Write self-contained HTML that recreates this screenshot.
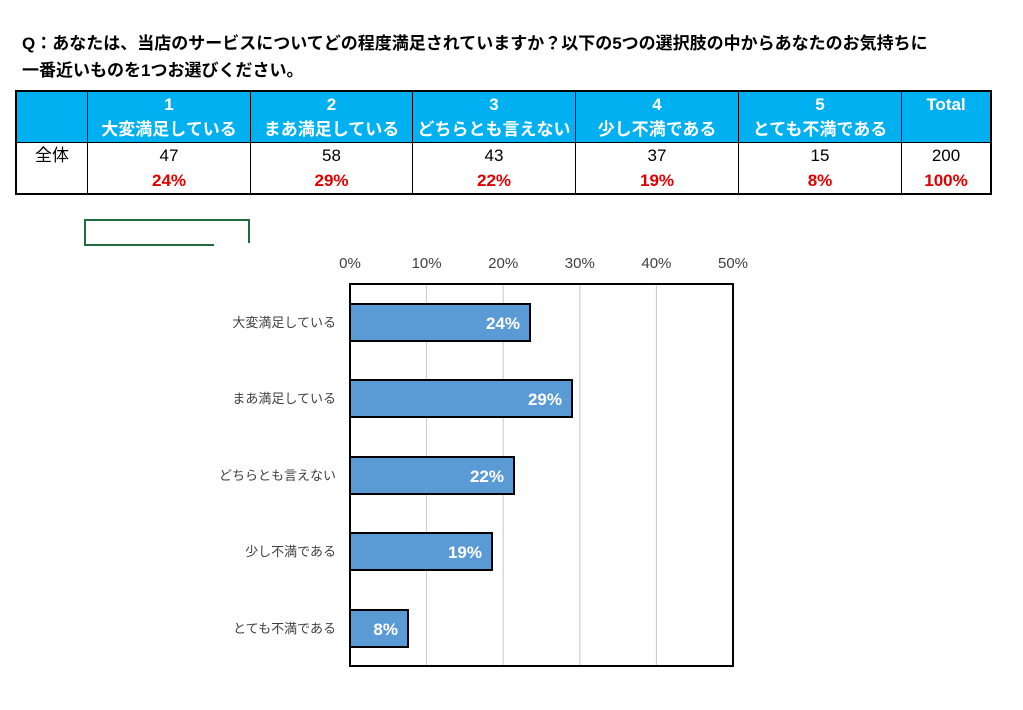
<!DOCTYPE html>
<html><head><meta charset="utf-8"><style>
body{margin:0;width:1023px;height:710px;background:#fff;position:relative;font-family:"Liberation Sans","Noto Sans CJK JP",sans-serif;overflow:hidden}
.t{position:absolute;left:22px;font-weight:bold;font-size:17px;color:#000;white-space:nowrap}
table{position:absolute;left:15px;top:90px;border-collapse:collapse;border:2px solid #000}
td{border:1px solid #000;text-align:center;padding:0;font-size:17px}
tr.h td{background:#00b0f0;color:#fff;font-weight:bold;height:50px;line-height:25px}
tr.d td{height:50px;line-height:25px;vertical-align:top}
.r{color:#e00000;font-weight:bold}
</style></head><body>
<div class="t" style="top:29px">Q：あなたは、当店のサービスについてどの程度満足されていますか？以下の5つの選択肢の中からあなたのお気持ちに</div>
<div class="t" style="top:56px">一番近いものを1つお選びください。</div>
<table>
<tr class="h"><td style="width:70px"></td><td style="width:162px">1<br>大変満足している</td><td style="width:161px">2<br>まあ満足している</td><td style="width:162px">3<br>どちらとも言えない</td><td style="width:162px">4<br>少し不満である</td><td style="width:162px">5<br>とても不満である</td><td style="width:88px;vertical-align:top">Total</td></tr>
<tr class="d"><td>全体</td><td>47<br><span class="r">24%</span></td><td>58<br><span class="r">29%</span></td><td>43<br><span class="r">22%</span></td><td>37<br><span class="r">19%</span></td><td>15<br><span class="r">8%</span></td><td>200<br><span class="r">100%</span></td></tr>
</table>
<svg width="1023" height="710" style="position:absolute;left:0;top:0" font-family="Liberation Sans,Noto Sans CJK JP,sans-serif">
<polyline points="214,245 85,245 85,220 249,220 249,243" fill="none" stroke="#1e6b3c" stroke-width="2"/>
<g stroke="#c8c8c8" stroke-width="1">
<line x1="426.6" y1="284" x2="426.6" y2="666"/><line x1="503.2" y1="284" x2="503.2" y2="666"/><line x1="579.8" y1="284" x2="579.8" y2="666"/><line x1="656.4" y1="284" x2="656.4" y2="666"/>
</g>
<g font-size="15" fill="#404040" text-anchor="middle">
<text x="350" y="268">0%</text><text x="426.6" y="268">10%</text><text x="503.2" y="268">20%</text><text x="579.8" y="268">30%</text><text x="656.4" y="268">40%</text><text x="733" y="268">50%</text>
</g>
<g fill="#5b9bd5" stroke="#000" stroke-width="2">
<rect x="350" y="304" width="180" height="37"/>
<rect x="350" y="380" width="222" height="37"/>
<rect x="350" y="457" width="164" height="37"/>
<rect x="350" y="533" width="142" height="37"/>
<rect x="350" y="610" width="58" height="37"/>
</g>
<rect x="350" y="284" width="383" height="382" fill="none" stroke="#000" stroke-width="2"/>
<g font-size="17" font-weight="bold" fill="#fff" text-anchor="end">
<text x="520" y="329">24%</text><text x="562" y="405">29%</text><text x="504" y="482">22%</text><text x="482" y="558">19%</text><text x="398" y="635">8%</text>
</g>
<g font-size="13" fill="#404040" text-anchor="end">
<text x="336" y="327">大変満足している</text><text x="336" y="403">まあ満足している</text><text x="336" y="480">どちらとも言えない</text><text x="336" y="556">少し不満である</text><text x="336" y="633">とても不満である</text>
</g>
</svg>
</body></html>
